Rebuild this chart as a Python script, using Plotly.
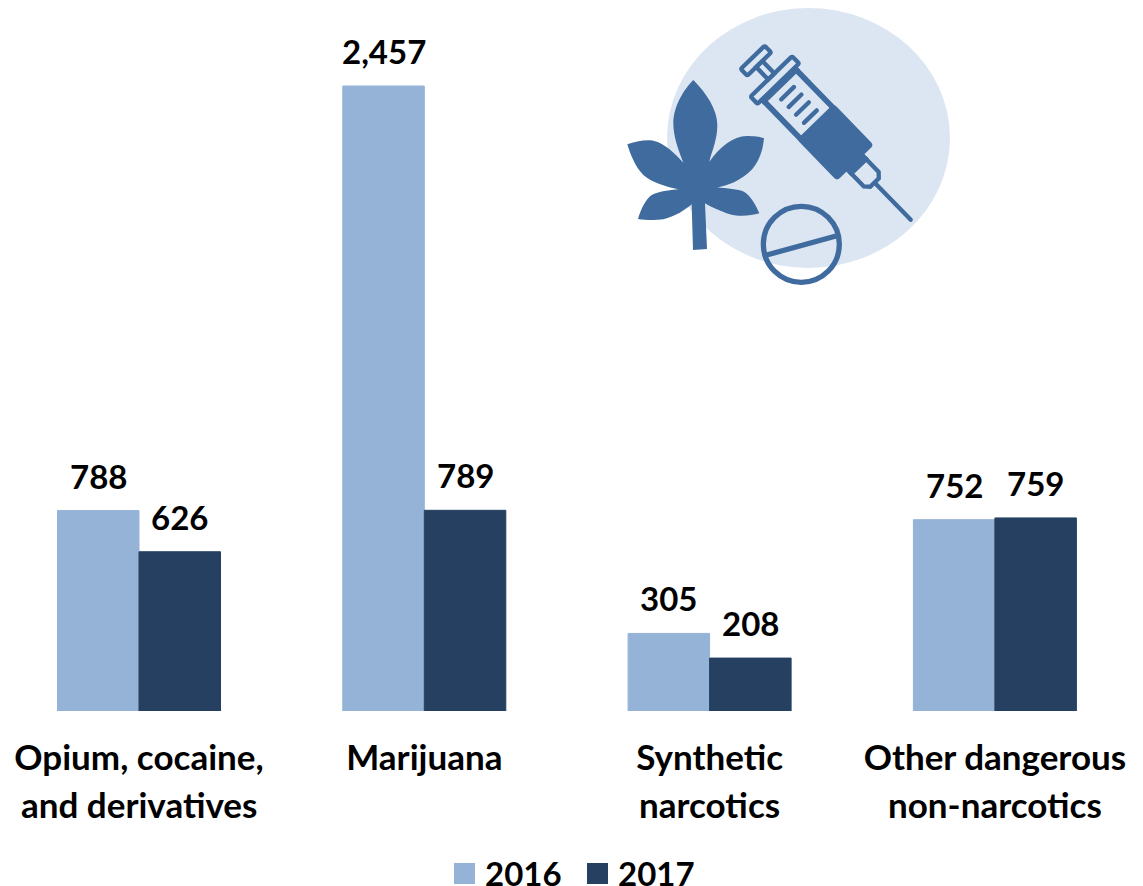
import math
import plotly.graph_objects as go

WIDTH, HEIGHT = 1143, 886
FONT = "Lato"
LIGHT, DARK = "#95B3D7", "#254061"
ICON, DISC = "#3F6B9E", "#DCE6F2"

# Chart data
line_one = ["Opium, cocaine,", "Marijuana", "Synthetic", "Other dangerous"]
line_two = ["and derivatives", "", "narcotics", "non-narcotics"]
categories = [(a + " " + b).strip() for a, b in zip(line_one, line_two)]
values_2016 = [788, 2457, 305, 752]
values_2017 = [626, 789, 208, 759]
series_names = ["2016", "2017"]

BASELINE = 711
PX_PER_UNIT = 625 / 2457
SLOT = 285.3
FIRST_CENTRE = 139
BAR_W = 81.5


def paper(px, py):
    return px / WIDTH, 1 - py / HEIGHT


def icon_xy(zx, zy):
    """Icon drawing grid (three units per pixel) to paper coordinates."""
    return paper(zx / 3 + 610, zy / 3 + 10)


def svg(cmds):
    out = []
    for c in cmds:
        if c[0] == "Z":
            out.append("Z")
        else:
            pts = [icon_xy(c[i], c[i + 1]) for i in range(1, len(c), 2)]
            out.append(c[0] + " ".join(f"{x:.5f},{y:.5f}" for x, y in pts))
    return " ".join(out)


# Syringe is laid out along its own axis, then rotated into place
ORIGIN = (438, 152)
AX = (0.697, 0.717)
PE = (-0.717, 0.697)


def uv(u, v):
    return ORIGIN[0] + u * AX[0] + v * PE[0], ORIGIN[1] + u * AX[1] + v * PE[1]


def rrect(u0, u1, v0, v1, r):
    p = [(u0 + r, v0), (u1 - r, v0), (u1, v0), (u1, v0 + r), (u1, v1 - r), (u1, v1),
         (u1 - r, v1), (u0 + r, v1), (u0, v1), (u0, v1 - r), (u0, v0 + r), (u0, v0), (u0 + r, v0)]
    q = [uv(*a) for a in p]
    cmds = [("M", *q[0]), ("L", *q[1]), ("Q", *q[2], *q[3]), ("L", *q[4]), ("Q", *q[5], *q[6]),
            ("L", *q[7]), ("Q", *q[8], *q[9]), ("L", *q[10]), ("Q", *q[11], *q[12]), ("Z",)]
    return svg(cmds)


def poly(points):
    q = [uv(*a) for a in points]
    return svg([("M", *q[0])] + [("L", *a) for a in q[1:]] + [("Z",)])


def solid(path, color=ICON):
    return dict(type="path", xref="paper", yref="paper", path=path,
                fillcolor=color, line=dict(width=0), layer="above")


def outline(path, width=4.3, color=ICON):
    return dict(type="path", xref="paper", yref="paper", path=path,
                fillcolor="rgba(0,0,0,0)", line=dict(color=color, width=width), layer="above")


leaf = svg([
    ("M", 250, 210), ("C", 290, 250, 322, 300, 322, 345), ("C", 322, 390, 305, 425, 298, 455),
    ("C", 330, 410, 370, 378, 410, 378), ("C", 430, 378, 450, 380, 462, 385),
    ("C", 458, 430, 440, 475, 400, 500), ("C", 375, 518, 345, 528, 322, 532),
    ("C", 350, 535, 385, 538, 402, 545), ("C", 425, 560, 440, 590, 448, 610),
    ("C", 420, 618, 385, 622, 350, 610), ("C", 325, 600, 300, 590, 285, 580),
    ("L", 291, 717), ("L", 249, 720), ("L", 245, 583),
    ("C", 225, 600, 195, 620, 160, 628), ("C", 135, 632, 105, 630, 84, 627),
    ("C", 92, 600, 105, 570, 125, 555), ("C", 145, 545, 180, 540, 205, 538),
    ("C", 170, 530, 130, 520, 100, 495), ("C", 75, 470, 60, 430, 52, 403),
    ("C", 75, 395, 105, 388, 130, 392), ("C", 165, 400, 195, 430, 220, 458),
    ("C", 205, 420, 190, 380, 190, 340), ("C", 190, 290, 220, 240, 250, 210), ("Z",),
])

disc_x0, disc_y1 = paper(667, 8)
disc_x1, disc_y0 = paper(950, 268)
pill_x0, pill_y1 = icon_xy(574 - 114, 703 - 114)
pill_x1, pill_y0 = icon_xy(574 + 114, 703 + 114)
slash = svg([("M", 470, 735), ("L", 678, 678)])

shapes = [
    dict(type="circle", xref="paper", yref="paper", x0=disc_x0, x1=disc_x1, y0=disc_y0, y1=disc_y1,
         fillcolor=DISC, line=dict(width=0), layer="below"),
    solid(leaf),
    # plunger
    outline(rrect(-14, 14, -50, 50, 5)),
    outline(poly([(14, -13), (66, -13), (66, 13), (14, 13)])),
    # flange
    outline(rrect(66, 96, -87, 87, 5)),
    # barrel wall and solid lower half
    solid(rrect(96, 112, -76, 76, 1)),
    solid(rrect(96, 262, -76, -59, 1)),
    solid(rrect(96, 262, 59, 76, 1)),
    solid(rrect(255, 428, -77, 77, 12)),
    # hub
    solid(rrect(420, 448, -38, 38, 1)),
    outline(poly([(442, -31), (496, -31), (510, -18), (510, 18), (496, 31), (442, 31)])),
    # needle
    solid(rrect(505, 672, -6.5, 6.5, 6)),
    # pill
    dict(type="circle", xref="paper", yref="paper", x0=pill_x0, x1=pill_x1, y0=pill_y0, y1=pill_y1,
         fillcolor="rgba(0,0,0,0)", line=dict(color=ICON, width=5.3), layer="above"),
    outline(slash, width=5.3),
]
# graduation marks on the barrel
for u in (136, 168, 200, 234):
    shapes.append(solid(rrect(u - 6.5, u + 6.5, -33, 33, 6)))

fig = go.Figure()
fig.add_bar(name=series_names[0], x=categories, y=values_2016, showlegend=False,
            marker=dict(color=LIGHT, line=dict(color=LIGHT, width=1)))
fig.add_bar(name=series_names[1], x=categories, y=values_2017, showlegend=False,
            marker=dict(color=DARK, line=dict(color=DARK, width=1)))

annotations = []
for cat, a, b in zip(categories, values_2016, values_2017):
    for val, shift in ((a, -BAR_W / 2), (b, BAR_W / 2)):
        annotations.append(dict(x=cat, y=val, xref="x", yref="y", text=f"<b>{val:,}</b>",
                                showarrow=False, xshift=shift, yshift=13, yanchor="bottom",
                                font=dict(family=FONT, size=33, color="black")))
for cat, extra in zip(categories, line_two):
    if extra:
        annotations.append(dict(x=cat, y=1 - 803.5 / HEIGHT, xref="x", yref="paper",
                                text=f"<b>{extra}</b>", showarrow=False, yanchor="middle",
                                font=dict(family=FONT, size=35, color="black")))

# Legend row along the bottom edge: square keys with bold year labels
for name, color, key_left, label_left in zip(series_names, (LIGHT, DARK), (454, 587), (483, 615.5)):
    kx0, ky1 = paper(key_left, 863)
    kx1, ky0 = paper(key_left + 21, 884)
    shapes.append(dict(type="rect", xref="paper", yref="paper", x0=kx0, x1=kx1, y0=ky0, y1=ky1,
                       fillcolor=color, line=dict(width=0)))
    lx, ly = paper(label_left, 873)
    annotations.append(dict(x=lx, y=ly, xref="paper", yref="paper", text=f"<b>{name}</b>",
                            showarrow=False, xanchor="left", yanchor="middle", height=26,
                            font=dict(family=FONT, size=33, color="black")))

fig.update_layout(
    width=WIDTH, height=HEIGHT, autosize=False,
    margin=dict(l=0, r=0, t=0, b=0, pad=0),
    paper_bgcolor="white", plot_bgcolor="white",
    barmode="group", bargap=1 - 2 * BAR_W / SLOT, bargroupgap=0,
    showlegend=False,
    shapes=shapes, annotations=annotations,
    xaxis=dict(type="category", categoryorder="array", categoryarray=categories,
               range=[-FIRST_CENTRE / SLOT, (WIDTH - FIRST_CENTRE) / SLOT],
               tickmode="array", tickvals=categories, ticktext=[f"<b>{t}</b>" for t in line_one],
               tickfont=dict(family=FONT, size=35, color="black"), ticks="", showline=False,
               showgrid=False, zeroline=False, ticklabelstandoff=23, automargin=False),
    yaxis=dict(domain=[1 - BASELINE / HEIGHT, 1], range=[0, BASELINE / PX_PER_UNIT],
               visible=False, showgrid=False, zeroline=False),
)

fig.write_html("out.html", config=dict(displayModeBar=False))
